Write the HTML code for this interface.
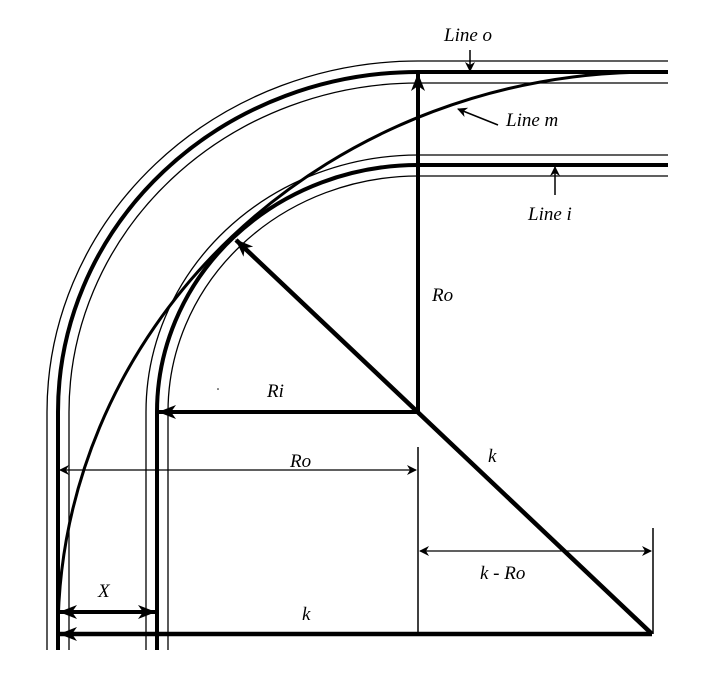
<!DOCTYPE html>
<html><head><meta charset="utf-8"><style>
html,body{margin:0;padding:0;background:#fff;}
svg{display:block;}
text{font-family:"Liberation Serif",serif;font-style:italic;font-size:19px;fill:#000;}
</style></head><body>
<svg width="716" height="674" viewBox="0 0 716 674" xmlns="http://www.w3.org/2000/svg">
<defs>
<marker id="a" markerWidth="10" markerHeight="10" refX="9" refY="5" orient="auto" markerUnits="userSpaceOnUse" viewBox="0 0 10 10"><path d="M0,0 L10,5 L0,10 L3,5 Z" fill="#000"/></marker>
<marker id="b" markerWidth="18" markerHeight="14" refX="17" refY="7" orient="auto" markerUnits="userSpaceOnUse" viewBox="0 0 18 14"><path d="M0,0 L18,7 L0,14 L5,7 Z" fill="#000"/></marker>
</defs>
<g fill="none" stroke="#000">
<!-- outer track -->
<path d="M47,650 L47,412 A371,351 0 0 1 418,61 L668,61" stroke-width="1.3"/>
<path d="M58,650 L58,412 A360,340 0 0 1 418,72 L668,72" stroke-width="4"/>
<path d="M69,650 L69,412 A349,329 0 0 1 418,83 L668,83" stroke-width="1.3"/>
<!-- inner track -->
<path d="M146,650 L146,412 A272,257 0 0 1 418,155 L668,155" stroke-width="1.3"/>
<path d="M157,650 L157,412 A261,247 0 0 1 418,165 L668,165" stroke-width="4"/>
<path d="M168,650 L168,412 A250,236 0 0 1 418,176 L668,176" stroke-width="1.3"/>
<!-- line m -->
<path d="M58,650 L58,634 A594,562 0 0 1 652,72 L668,72" stroke-width="3"/>
<!-- radii -->
<line x1="418" y1="412" x2="418" y2="74" stroke-width="4" marker-end="url(#b)"/>
<line x1="418" y1="412" x2="159" y2="412" stroke-width="4" marker-end="url(#b)"/>
<line x1="652" y1="634" x2="236" y2="240" stroke-width="4.5" marker-end="url(#b)"/>
<line x1="652" y1="634" x2="60" y2="634" stroke-width="4.5" marker-end="url(#b)"/>
<!-- dims -->
<line x1="418" y1="447" x2="418" y2="634" stroke-width="1.5"/>
<line x1="653" y1="528" x2="653" y2="634" stroke-width="1.5"/>
<line x1="240" y1="470" x2="60" y2="470" stroke-width="1.3" marker-end="url(#a)"/>
<line x1="240" y1="470" x2="416" y2="470" stroke-width="1.3" marker-end="url(#a)"/>
<line x1="530" y1="551" x2="420" y2="551" stroke-width="1.3" marker-end="url(#a)"/>
<line x1="530" y1="551" x2="651" y2="551" stroke-width="1.3" marker-end="url(#a)"/>
<line x1="105" y1="612" x2="60" y2="612" stroke-width="4" marker-end="url(#b)"/>
<line x1="105" y1="612" x2="155" y2="612" stroke-width="4" marker-end="url(#b)"/>
<!-- label pointers -->
<line x1="470" y1="50" x2="470" y2="71" stroke-width="1.5" marker-end="url(#a)"/>
<line x1="498" y1="125" x2="458" y2="109" stroke-width="1.5" marker-end="url(#a)"/>
<line x1="555" y1="195" x2="555" y2="167" stroke-width="1.5" marker-end="url(#a)"/>
</g>
<circle cx="218" cy="389" r="0.8" fill="#000"/>
<text x="444" y="41">Line o</text>
<text x="506" y="126">Line m</text>
<text x="528" y="220">Line i</text>
<text x="432" y="301">Ro</text>
<text x="267" y="397">Ri</text>
<text x="290" y="467">Ro</text>
<text x="488" y="462">k</text>
<text x="480" y="579">k - Ro</text>
<text x="98" y="597">X</text>
<text x="302" y="620">k</text>
</svg>
</body></html>
